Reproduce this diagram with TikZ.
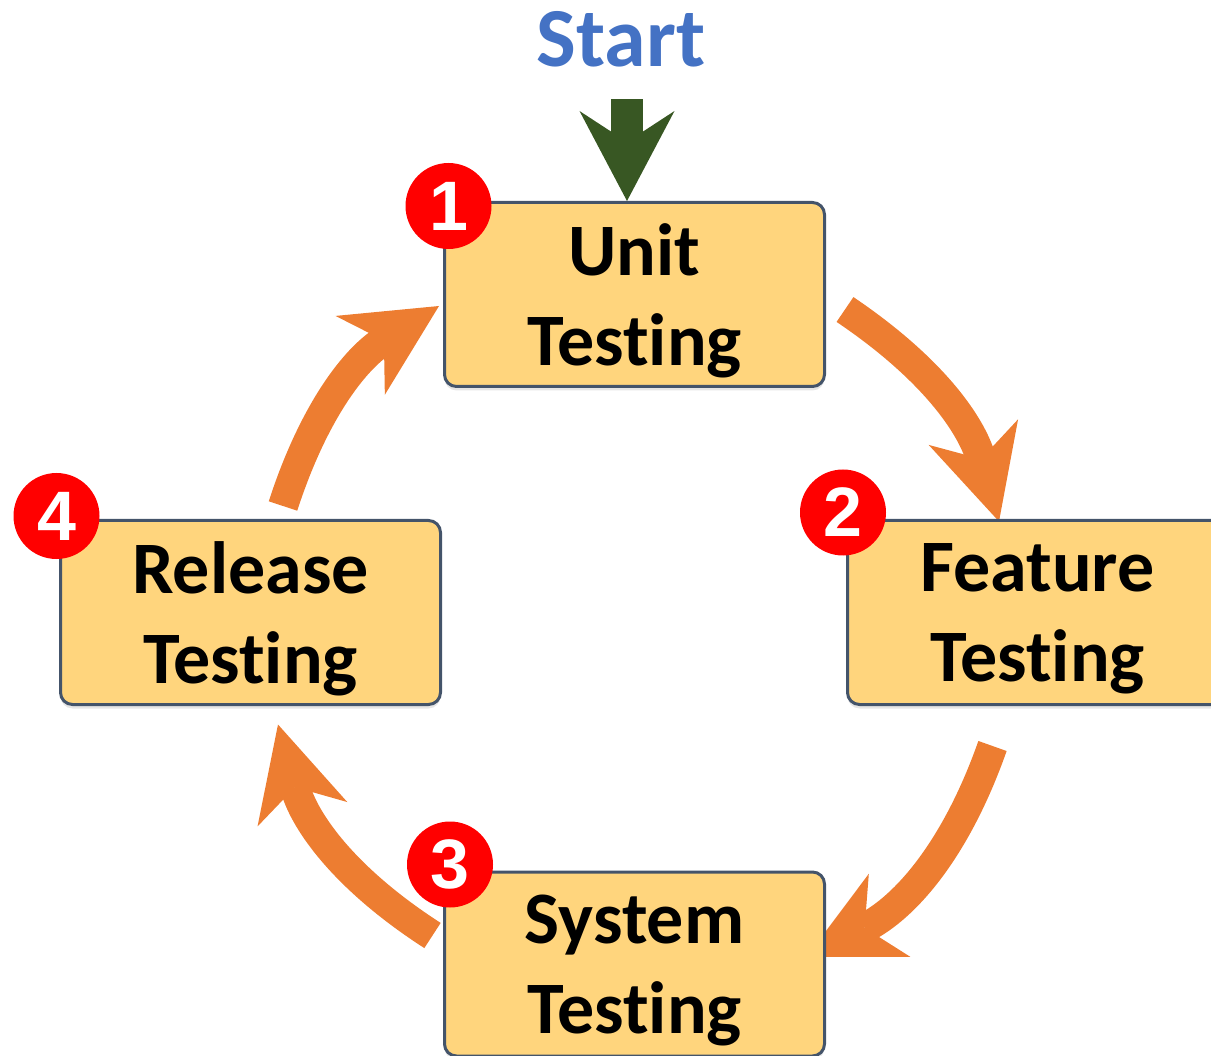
\documentclass[tikz,border=0pt]{standalone}
\usepackage{fontspec}
\setmainfont{Carlito}[Ligatures=NoCommon]
\newfontfamily\digitfont{Liberation Sans}
\usepackage{xcolor}
\usetikzlibrary{arrows.meta,backgrounds,shadows}
\definecolor{stagefill}{RGB}{255,213,125}
\definecolor{stageline}{RGB}{68,84,106}
\definecolor{cycleorange}{RGB}{237,125,49}
\definecolor{startblue}{RGB}{68,114,196}
\definecolor{godark}{RGB}{56,87,35}

\begin{document}
\begin{tikzpicture}[x=1pt,y=1pt]
            \tikzset{
            stage node/.style={rectangle,rounded corners=12pt,draw=stageline,line width=3pt,fill=stagefill,minimum width=380pt,minimum height=184pt,inner sep=0,align=center,text depth=0pt,font=\bfseries\fontsize{74}{90}\selectfont,drop shadow={shadow xshift=0pt,shadow yshift=-4pt,opacity=0.2}},
            badge node/.style={circle,fill=red,minimum size=86pt,inner sep=0,text=white,font=\digitfont\bfseries\fontsize{70}{70}\selectfont},
            cycle edge/.style={draw=cycleorange,line width=30pt,-{Stealth[length=93pt,width=93pt,inset=28pt,line width=0pt]}},
            start edge/.style={draw=godark,line width=32pt,-{Stealth[length=90pt,width=95pt,inset=31pt,line width=0pt]}}
            }
            \useasboundingbox (0,0) rectangle (1211,-1056);
            \node[text=startblue,inner sep=0,font=\bfseries\fontsize{84}{84}\selectfont] (start) at (621,-39) {Start};
            \node[stage node] (unit) at (634.5,-294.5) {Unit\\Testing};
            \node[stage node] (feature) at (1037.5,-612.5) {Feature\\Testing};
            \node[stage node] (release) at (250.5,-612.5) {Release\\Testing};
            \node[stage node] (system) at (634.5,-964) {System\\Testing};
            \node[badge node] (b1) at ([xshift=5.5pt,yshift=-5pt]unit.north west) {1};
            \node[badge node] (b2) at ([xshift=-3pt,yshift=6.5pt]feature.north west) {2};
            \node[badge node] (b3) at ([xshift=7pt,yshift=6pt]system.north west) {3};
            \node[badge node] (b4) at ([xshift=-2.5pt,yshift=3pt]release.north west) {4};
            \coordinate (drop) at ([xshift=6pt]start.south);

            \draw[start edge] ([yshift=-32pt]drop) -- (drop |- unit.north);
            \begin{pgfonlayer}{background}
            \draw[cycle edge] ([xshift=19pt,yshift=-15pt]unit.east) to[bend left=20] ([xshift=-38.5pt,yshift=-2.5pt]feature.north);
            \draw[cycle edge] ([xshift=-45pt,yshift=-40pt]feature.south) to[bend left=22] ([xshift=-19.5pt,yshift=7pt]system.east);
            \draw[cycle edge] ([xshift=-10.5pt,yshift=28.5pt]system.west) to[bend left=21] ([xshift=27.5pt,yshift=-18.5pt]release.south);
            \draw[cycle edge] ([xshift=32.5pt,yshift=13pt]release.north) to[bend left=20] ([xshift=-4pt,yshift=-11.5pt]unit.west);
            \end{pgfonlayer}
        \end{tikzpicture}
\end{document}
